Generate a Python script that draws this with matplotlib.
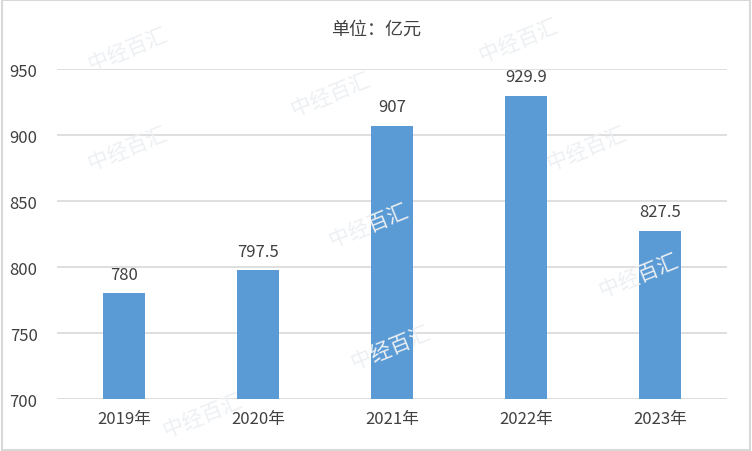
import matplotlib
matplotlib.use("Agg")
import matplotlib.pyplot as plt

plt.rcParams['font.family'] = ['Noto Sans CJK SC', 'DejaVu Sans']

# 数据
years = ["2019年", "2020年", "2021年", "2022年", "2023年"]
values = [780, 797.5, 907, 929.9, 827.5]
value_labels = ["780", "797.5", "907", "929.9", "827.5"]
y_ticks = [700, 750, 800, 850, 900, 950]

bar_color = "#5B9BD5"
text_color = "#404040"
grid_color = "#D9D9D9"

fig = plt.figure(figsize=(7.52, 4.52), dpi=100)
ax = fig.add_axes([0.0758, 0.115, 0.891, 0.730])

x = range(len(years))
ax.bar(x, values, width=0.31, color=bar_color, zorder=3)
for i, v in enumerate(values):
    ax.text(i, v + 8, value_labels[i], ha="center", va="bottom",
            fontsize=12, color=text_color, zorder=4)

ax.set_ylim(700, 950)
ax.set_xlim(-0.5, len(years) - 0.5)
ax.set_yticks(y_ticks)
ax.set_yticklabels([str(t) for t in y_ticks], fontsize=12, color=text_color)
ax.set_xticks(list(x))
ax.set_xticklabels(years, fontsize=12, color=text_color)
ax.tick_params(axis="both", length=0)
ax.tick_params(axis="y", pad=14)
ax.tick_params(axis="x", pad=8)
ax.yaxis.grid(True, color=grid_color, linewidth=1.2, zorder=0)
for s in ax.spines.values():
    s.set_visible(False)

fig.text(0.5, 0.935, "单位：亿元", ha="center", va="center",
         fontsize=13, color=text_color)

# 水印
marks = [(0.17, 0.89), (0.69, 0.91), (0.44, 0.79), (0.17, 0.67), (0.78, 0.67),
         (0.49, 0.50), (0.85, 0.39), (0.52, 0.23), (0.27, 0.08)]
for mx, my in marks:
    fig.text(mx, my, "中经百汇", fontsize=15, color="#EDF0F3", rotation=22,
             ha="center", va="center", zorder=0)

# 边框
fig.patches.append(plt.Rectangle((0.002, 0.003), 0.996, 0.994, transform=fig.transFigure,
                                 fill=False, edgecolor="#D9D9D9", linewidth=1.5))

fig.savefig("out.png", dpi=100)
